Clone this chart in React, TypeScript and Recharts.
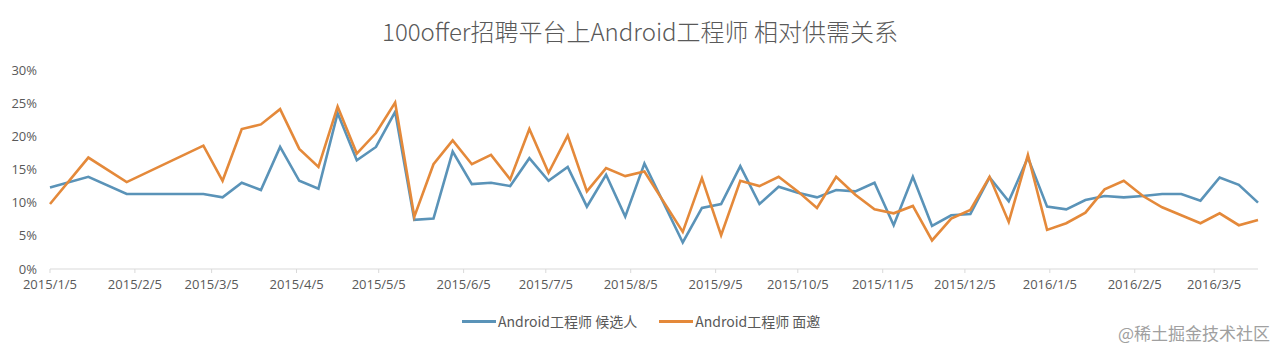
import React from 'react';
import { LineChart, Line, XAxis, YAxis, Legend } from 'recharts';

// weekly observation dates (Mondays); some weeks have no data
const dates = [
  '2015/1/5', '2015/1/19', '2015/2/2', '2015/3/2', '2015/3/9', '2015/3/16', '2015/3/23', '2015/3/30',
  '2015/4/6', '2015/4/13', '2015/4/20', '2015/4/27', '2015/5/4', '2015/5/11', '2015/5/18', '2015/5/25',
  '2015/6/1', '2015/6/8', '2015/6/15', '2015/6/22', '2015/6/29', '2015/7/6', '2015/7/13', '2015/7/20',
  '2015/7/27', '2015/8/3', '2015/8/10', '2015/8/24', '2015/8/31', '2015/9/7', '2015/9/14', '2015/9/21',
  '2015/9/28', '2015/10/5', '2015/10/12', '2015/10/19', '2015/10/26', '2015/11/2', '2015/11/9', '2015/11/16',
  '2015/11/23', '2015/11/30', '2015/12/7', '2015/12/14', '2015/12/21', '2015/12/28', '2016/1/4', '2016/1/11',
  '2016/1/18', '2016/1/25', '2016/2/1', '2016/2/8', '2016/2/15', '2016/2/22', '2016/2/29', '2016/3/7',
  '2016/3/14', '2016/3/21',
];

const candidates = [
  12.3, 13.9, 11.3, 11.3, 10.8, 13.0, 11.9, 18.4,
  13.3, 12.1, 23.5, 16.4, 18.4, 23.7, 7.4, 7.6,
  17.7, 12.8, 13.0, 12.5, 16.7, 13.3, 15.4, 9.4,
  14.2, 7.9, 15.9, 4.0, 9.2, 9.8, 15.5, 9.8,
  12.4, 11.5, 10.8, 11.9, 11.7, 13.0, 6.6, 13.9,
  6.5, 8.1, 8.3, 13.8, 10.2, 16.8, 9.4, 9.0,
  10.4, 11.0, 10.8, 11.0, 11.3, 11.3, 10.3, 13.8,
  12.7, 10.0,
];

const interviews = [
  9.8, 16.8, 13.1, 18.6, 13.3, 21.1, 21.8, 24.1,
  18.1, 15.4, 24.5, 17.4, 20.5, 25.1, 7.9, 15.8,
  19.4, 15.8, 17.2, 13.5, 21.1, 14.5, 20.1, 11.7,
  15.2, 14.0, 14.7, 5.6, 13.7, 5.1, 13.3, 12.5,
  13.9, 11.7, 9.2, 13.9, 11.2, 9.0, 8.4, 9.5,
  4.3, 7.6, 8.9, 13.9, 7.1, 17.2, 5.9, 6.9,
  8.5, 12.0, 13.3, 11.0, 9.3, 8.1, 6.9, 8.4,
  6.6, 7.4,
];

const xTickLabels = [
  '2015/1/5', '2015/2/5', '2015/3/5', '2015/4/5', '2015/5/5', '2015/6/5', '2015/7/5', '2015/8/5',
  '2015/9/5', '2015/10/5', '2015/11/5', '2015/12/5', '2016/1/5', '2016/2/5', '2016/3/5',
];
const yTicks = [0, 5, 10, 15, 20, 25, 30];

const toTime = (s: string) => {
  const [y, m, d] = s.split('/').map(Number);
  return Date.UTC(y, m - 1, d);
};
const fmtDate = (t: number) => {
  const d = new Date(t);
  return `${d.getUTCFullYear()}/${d.getUTCMonth() + 1}/${d.getUTCDate()}`;
};

const data = dates.map((d, i) => ({ t: toTime(d), a: candidates[i], b: interviews[i] }));

const BLUE = '#5a93b8';
const ORANGE = '#e4893a';
const TEXT = '#595959';

const legendItems = [
  { c: BLUE, n: 'Android工程师 候选人' },
  { c: ORANGE, n: 'Android工程师 面邀' },
];

const LegendContent = () => (
  <div style={{ display: 'flex', paddingLeft: 462, fontFamily: '"Noto Sans CJK SC", sans-serif', fontSize: 14, color: TEXT, lineHeight: '20px' }}>
    {legendItems.map((it, i) => (
      <div key={i} style={{ display: 'flex', alignItems: 'center', marginRight: 22 }}>
        <span style={{ display: 'inline-block', width: 34, height: 3, background: it.c, marginRight: 2 }} />
        <span style={{ whiteSpace: 'nowrap' }}>{it.n}</span>
      </div>
    ))}
  </div>
);

export default function App() {
  return (
    <div style={{ position: 'absolute', left: 0, top: 0, width: 1280, height: 351, background: '#fff' }}>
      <div
        style={{
          position: 'absolute', top: 16, left: 0, width: 1280, textAlign: 'center', lineHeight: '30px',
          fontFamily: '"Noto Sans CJK SC", sans-serif', fontSize: 24, fontWeight: 300, color: TEXT,
        }}
      >
        100offer招聘平台上Android工程师 相对供需关系
      </div>
      <LineChart width={1280} height={351} data={data} margin={{ top: 70, right: 22, bottom: 52, left: 0 }}>
        <XAxis
          dataKey="t"
          type="number"
          domain={[toTime('2015/1/5'), toTime('2016/3/21')]}
          ticks={xTickLabels.map(toTime)}
          tickFormatter={fmtDate}
          interval={0}
          height={30}
          stroke="#d9d9d9"
          tickSize={4}
          tickMargin={7}
          tick={{ fill: TEXT, fontSize: 13, fontFamily: '"Open Sans", sans-serif' }}
        />
        <YAxis
          domain={[0, 30]}
          ticks={yTicks}
          width={50}
          axisLine={false}
          tickLine={false}
          tickSize={0}
          tickMargin={13}
          tickFormatter={(v: number) => `${v}%`}
          tick={{ fill: TEXT, fontSize: 13, fontFamily: '"Open Sans", sans-serif' }}
        />
        <Legend verticalAlign="middle" align="center" layout="horizontal" content={<LegendContent />} wrapperStyle={{ top: 311, left: 0, width: 1280 }} />
        <Line dataKey="a" name="Android工程师 候选人" stroke={BLUE} strokeWidth={2.6} dot={false} isAnimationActive={false} />
        <Line dataKey="b" name="Android工程师 面邀" stroke={ORANGE} strokeWidth={2.6} dot={false} isAnimationActive={false} />
      </LineChart>
      <div
        style={{
          position: 'absolute', right: 10, top: 322, fontFamily: '"Noto Sans CJK SC", sans-serif',
          fontSize: 17, color: '#a0a0a0', lineHeight: '22px',
        }}
      >
        @稀土掘金技术社区
      </div>
    </div>
  );
}
